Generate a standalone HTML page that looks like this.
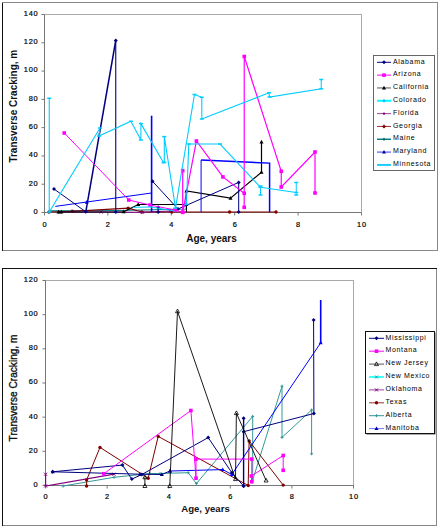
<!DOCTYPE html><html><head><meta charset="utf-8"><style>html,body{margin:0;padding:0;background:#fff;width:440px;height:528px;overflow:hidden;position:relative}</style></head><body><svg width="440" height="528" viewBox="0 0 440 528" style="position:absolute;left:0;top:0;font-family:'Liberation Sans', sans-serif">
<rect width="440" height="528" fill="#fff"/>
<rect x="2.5" y="2.5" width="435.0" height="248.0" fill="#fff" stroke="#888" stroke-width="1"/>
<line x1="2.5" y1="2.0" x2="2.5" y2="251.0" stroke="#111" stroke-width="1"/>
<line x1="2.0" y1="2.5" x2="438.0" y2="2.5" stroke="#888" stroke-width="1"/>
<rect x="44.5" y="14.5" width="317.0" height="198.0" fill="none" stroke="#aaa" stroke-width="1"/>
<text transform="translate(17.4,106.2) rotate(-90)" text-anchor="middle" font-size="10" font-weight="bold" fill="#111" stroke="#111" stroke-width="0">Transverse Cracking, m</text>
<text x="211.5" y="242" text-anchor="middle" font-size="10" font-weight="bold" fill="#111">Age, years</text>
<line x1="41.5" y1="212.50" x2="44.5" y2="212.50" stroke="#777" stroke-width="1"/>
<text x="38.5" y="213.90" text-anchor="end" font-size="7.4" letter-spacing="0.8" font-weight="normal" fill="#000" stroke="#000" stroke-width="0.2">0</text>
<line x1="41.5" y1="184.21" x2="44.5" y2="184.21" stroke="#777" stroke-width="1"/>
<text x="38.5" y="185.61" text-anchor="end" font-size="7.4" letter-spacing="0.8" font-weight="normal" fill="#000" stroke="#000" stroke-width="0.2">20</text>
<line x1="41.5" y1="155.93" x2="44.5" y2="155.93" stroke="#777" stroke-width="1"/>
<text x="38.5" y="157.33" text-anchor="end" font-size="7.4" letter-spacing="0.8" font-weight="normal" fill="#000" stroke="#000" stroke-width="0.2">40</text>
<line x1="41.5" y1="127.64" x2="44.5" y2="127.64" stroke="#777" stroke-width="1"/>
<text x="38.5" y="129.04" text-anchor="end" font-size="7.4" letter-spacing="0.8" font-weight="normal" fill="#000" stroke="#000" stroke-width="0.2">60</text>
<line x1="41.5" y1="99.36" x2="44.5" y2="99.36" stroke="#777" stroke-width="1"/>
<text x="38.5" y="100.76" text-anchor="end" font-size="7.4" letter-spacing="0.8" font-weight="normal" fill="#000" stroke="#000" stroke-width="0.2">80</text>
<line x1="41.5" y1="71.07" x2="44.5" y2="71.07" stroke="#777" stroke-width="1"/>
<text x="38.5" y="72.47" text-anchor="end" font-size="7.4" letter-spacing="0.8" font-weight="normal" fill="#000" stroke="#000" stroke-width="0.2">100</text>
<line x1="41.5" y1="42.79" x2="44.5" y2="42.79" stroke="#777" stroke-width="1"/>
<text x="38.5" y="44.19" text-anchor="end" font-size="7.4" letter-spacing="0.8" font-weight="normal" fill="#000" stroke="#000" stroke-width="0.2">120</text>
<line x1="41.5" y1="14.50" x2="44.5" y2="14.50" stroke="#777" stroke-width="1"/>
<text x="38.5" y="15.90" text-anchor="end" font-size="7.4" letter-spacing="0.8" font-weight="normal" fill="#000" stroke="#000" stroke-width="0.2">140</text>
<line x1="44.50" y1="212.5" x2="44.50" y2="215.5" stroke="#777" stroke-width="1"/>
<text x="44.90" y="226.5" text-anchor="middle" font-size="7.4" letter-spacing="0.8" font-weight="normal" fill="#000" stroke="#000" stroke-width="0.2">0</text>
<line x1="107.90" y1="212.5" x2="107.90" y2="215.5" stroke="#777" stroke-width="1"/>
<text x="108.30" y="226.5" text-anchor="middle" font-size="7.4" letter-spacing="0.8" font-weight="normal" fill="#000" stroke="#000" stroke-width="0.2">2</text>
<line x1="171.30" y1="212.5" x2="171.30" y2="215.5" stroke="#777" stroke-width="1"/>
<text x="171.70" y="226.5" text-anchor="middle" font-size="7.4" letter-spacing="0.8" font-weight="normal" fill="#000" stroke="#000" stroke-width="0.2">4</text>
<line x1="234.70" y1="212.5" x2="234.70" y2="215.5" stroke="#777" stroke-width="1"/>
<text x="235.10" y="226.5" text-anchor="middle" font-size="7.4" letter-spacing="0.8" font-weight="normal" fill="#000" stroke="#000" stroke-width="0.2">6</text>
<line x1="298.10" y1="212.5" x2="298.10" y2="215.5" stroke="#777" stroke-width="1"/>
<text x="298.50" y="226.5" text-anchor="middle" font-size="7.4" letter-spacing="0.8" font-weight="normal" fill="#000" stroke="#000" stroke-width="0.2">8</text>
<line x1="361.50" y1="212.5" x2="361.50" y2="215.5" stroke="#777" stroke-width="1"/>
<text x="361.90" y="226.5" text-anchor="middle" font-size="7.4" letter-spacing="0.8" font-weight="normal" fill="#000" stroke="#000" stroke-width="0.2">10</text>
<line x1="44.5" y1="14.5" x2="44.5" y2="212.5" stroke="#777" stroke-width="1"/>
<line x1="44.5" y1="212.5" x2="361.5" y2="212.5" stroke="#777" stroke-width="1"/>
<polyline points="50,210.8 120,210.5 186.4,209 186.4,191" fill="none" stroke="#008080" stroke-width="1.2" stroke-linejoin="miter"/>
<polyline points="49,212 72.2,211.3 128.2,208.2 141.8,212 171.8,212 229.6,212 276,212" fill="none" stroke="#800000" stroke-width="1.2" stroke-linejoin="miter"/>
<circle cx="49" cy="212" r="1.7" fill="#800000"/><circle cx="72.2" cy="211.3" r="1.7" fill="#800000"/><circle cx="128.2" cy="208.2" r="1.7" fill="#800000"/><circle cx="141.8" cy="212" r="1.7" fill="#800000"/><circle cx="171.8" cy="212" r="1.7" fill="#800000"/><circle cx="229.6" cy="212" r="1.7" fill="#800000"/><circle cx="276" cy="212" r="1.7" fill="#800000"/>
<polyline points="60,212 101.25,212 142.5,212.3 170,211" fill="none" stroke="#800080" stroke-width="1" stroke-linejoin="miter"/>
<path d="M58.5 210.5L61.5 213.5M61.5 210.5L58.5 213.5" stroke="#800080" stroke-width="1"/><path d="M99.75 210.5L102.75 213.5M102.75 210.5L99.75 213.5" stroke="#800080" stroke-width="1"/><path d="M141.0 210.8L144.0 213.8M144.0 210.8L141.0 213.8" stroke="#800080" stroke-width="1"/><path d="M168.5 209.5L171.5 212.5M171.5 209.5L168.5 212.5" stroke="#800080" stroke-width="1"/>
<polyline points="58.5,212 61.3,212 123.6,211.8 138.2,204.5 186.4,204.5 186.4,190.9 230.5,198.2 261.5,172.2 261.5,142" fill="none" stroke="#000000" stroke-width="1.2" stroke-linejoin="miter"/>
<path d="M58.5 209.8L60.5 213.5L56.5 213.5Z" fill="#000000"/><path d="M61.3 209.8L63.3 213.5L59.3 213.5Z" fill="#000000"/><path d="M123.6 209.60000000000002L125.6 213.3L121.6 213.3Z" fill="#000000"/><path d="M138.2 202.3L140.2 206.0L136.2 206.0Z" fill="#000000"/><path d="M186.4 202.3L188.4 206.0L184.4 206.0Z" fill="#000000"/><path d="M186.4 188.70000000000002L188.4 192.4L184.4 192.4Z" fill="#000000"/><path d="M230.5 196.0L232.5 199.7L228.5 199.7Z" fill="#000000"/><path d="M261.5 170.0L263.5 173.7L259.5 173.7Z" fill="#000000"/><path d="M261.5 139.8L263.5 143.5L259.5 143.5Z" fill="#000000"/>
<polyline points="186.4,204.5 186.4,212" fill="none" stroke="#000000" stroke-width="1" stroke-linejoin="miter"/>
<polyline points="55.3,206.4 151.5,193" fill="none" stroke="#0000ff" stroke-width="1" stroke-linejoin="miter"/>
<polyline points="86.7,202.2" fill="none" stroke="#0000ff" stroke-width="1" stroke-linejoin="miter"/>
<path d="M86.7 200.0L88.7 203.7L84.7 203.7Z" fill="#0000ff"/>
<polyline points="151.6,115.7 151.6,212" fill="none" stroke="#0000ff" stroke-width="1.6" stroke-linejoin="miter"/>
<polyline points="201.1,212 201.1,160" fill="none" stroke="#0000ff" stroke-width="1" stroke-linejoin="miter"/>
<polyline points="201.1,160 269.6,163.1 269.6,212" fill="none" stroke="#0000ff" stroke-width="1.5" stroke-linejoin="miter"/>
<polyline points="260.5,186 260.5,195" fill="none" stroke="#00ccff" stroke-width="1" stroke-linejoin="miter"/>
<line x1="258.5" y1="186" x2="262.5" y2="186" stroke="#00ccff" stroke-width="1.5"/><line x1="258.5" y1="195" x2="262.5" y2="195" stroke="#00ccff" stroke-width="1.5"/>
<polyline points="296.25,182.5 296.25,195" fill="none" stroke="#00ccff" stroke-width="1" stroke-linejoin="miter"/>
<line x1="294.25" y1="182.5" x2="298.25" y2="182.5" stroke="#00ccff" stroke-width="1.5"/><line x1="294.25" y1="195" x2="298.25" y2="195" stroke="#00ccff" stroke-width="1.5"/>
<polyline points="158.2,207.3 158.2,212" fill="none" stroke="#000080" stroke-width="1" stroke-linejoin="miter"/>
<path d="M158.2 205.3L160.2 207.3L158.2 209.3L156.2 207.3Z" fill="#000080"/><path d="M158.2 210L160.2 212L158.2 214L156.2 212Z" fill="#000080"/>
<polyline points="54,189 85.8,211.8" fill="none" stroke="#000080" stroke-width="1" stroke-linejoin="miter"/>
<path d="M54 187L56 189L54 191L52 189Z" fill="#000080"/><path d="M85.8 209.8L87.8 211.8L85.8 213.8L83.8 211.8Z" fill="#000080"/>
<polyline points="85.8,211.8 115.75,40.5" fill="none" stroke="#000080" stroke-width="1.5" stroke-linejoin="miter"/>
<polyline points="115.75,40.5 115.75,212" fill="none" stroke="#000080" stroke-width="1.1" stroke-linejoin="miter"/>
<path d="M115.75 38.5L117.75 40.5L115.75 42.5L113.75 40.5Z" fill="#000080"/><path d="M115.75 210L117.75 212L115.75 214L113.75 212Z" fill="#000080"/>
<polyline points="152.5,181.25 178,209 238.7,182.4 238.7,212" fill="none" stroke="#000080" stroke-width="1" stroke-linejoin="miter"/>
<path d="M152.5 179.25L154.5 181.25L152.5 183.25L150.5 181.25Z" fill="#000080"/><path d="M178 207L180 209L178 211L176 209Z" fill="#000080"/><path d="M238.7 180.4L240.7 182.4L238.7 184.4L236.7 182.4Z" fill="#000080"/><path d="M238.7 210L240.7 212L238.7 214L236.7 212Z" fill="#000080"/>
<polyline points="64.25,133 128.75,200 150,205 175,210 182.7,212.3" fill="none" stroke="#ff00ff" stroke-width="1" stroke-linejoin="miter"/>
<rect x="62.45" y="131.2" width="3.6" height="3.6" fill="#ff00ff"/><rect x="126.95" y="198.2" width="3.6" height="3.6" fill="#ff00ff"/><rect x="148.2" y="203.2" width="3.6" height="3.6" fill="#ff00ff"/><rect x="173.2" y="208.2" width="3.6" height="3.6" fill="#ff00ff"/><rect x="180.89999999999998" y="210.5" width="3.6" height="3.6" fill="#ff00ff"/>
<polyline points="182.7,170.6 182.7,212.3 196.4,141 222.9,176.9 244.2,193.3 244.2,207.3 244.25,56.5 281.25,171.25 281.25,187 315,152 315,193" fill="none" stroke="#ff00ff" stroke-width="1.2" stroke-linejoin="miter"/>
<rect x="180.89999999999998" y="168.79999999999998" width="3.6" height="3.6" fill="#ff00ff"/><rect x="180.89999999999998" y="210.5" width="3.6" height="3.6" fill="#ff00ff"/><rect x="194.6" y="139.2" width="3.6" height="3.6" fill="#ff00ff"/><rect x="221.1" y="175.1" width="3.6" height="3.6" fill="#ff00ff"/><rect x="242.39999999999998" y="191.5" width="3.6" height="3.6" fill="#ff00ff"/><rect x="242.39999999999998" y="205.5" width="3.6" height="3.6" fill="#ff00ff"/><rect x="242.45" y="54.7" width="3.6" height="3.6" fill="#ff00ff"/><rect x="279.45" y="169.45" width="3.6" height="3.6" fill="#ff00ff"/><rect x="279.45" y="185.2" width="3.6" height="3.6" fill="#ff00ff"/><rect x="313.2" y="150.2" width="3.6" height="3.6" fill="#ff00ff"/><rect x="313.2" y="191.2" width="3.6" height="3.6" fill="#ff00ff"/>
<polyline points="49.25,98.25 49.25,212 100,128 99,136 130.9,121.3 140.9,140 140.9,123.6 163.6,162.7 164.3,162.3 164.3,136.6 175.5,208 194.5,94.5 201.8,97.3 201.8,119 269,92.7 269.5,97 321.25,88.75 321.25,79.5" fill="none" stroke="#00ccff" stroke-width="1.1" stroke-linejoin="miter"/>
<line x1="47.25" y1="98.25" x2="51.25" y2="98.25" stroke="#00ccff" stroke-width="1.5"/><line x1="47.25" y1="212" x2="51.25" y2="212" stroke="#00ccff" stroke-width="1.5"/><line x1="98" y1="128" x2="102" y2="128" stroke="#00ccff" stroke-width="1.5"/><line x1="97" y1="136" x2="101" y2="136" stroke="#00ccff" stroke-width="1.5"/><line x1="128.9" y1="121.3" x2="132.9" y2="121.3" stroke="#00ccff" stroke-width="1.5"/><line x1="138.9" y1="140" x2="142.9" y2="140" stroke="#00ccff" stroke-width="1.5"/><line x1="138.9" y1="123.6" x2="142.9" y2="123.6" stroke="#00ccff" stroke-width="1.5"/><line x1="161.6" y1="162.7" x2="165.6" y2="162.7" stroke="#00ccff" stroke-width="1.5"/><line x1="162.3" y1="162.3" x2="166.3" y2="162.3" stroke="#00ccff" stroke-width="1.5"/><line x1="162.3" y1="136.6" x2="166.3" y2="136.6" stroke="#00ccff" stroke-width="1.5"/><line x1="173.5" y1="208" x2="177.5" y2="208" stroke="#00ccff" stroke-width="1.5"/><line x1="192.5" y1="94.5" x2="196.5" y2="94.5" stroke="#00ccff" stroke-width="1.5"/><line x1="199.8" y1="97.3" x2="203.8" y2="97.3" stroke="#00ccff" stroke-width="1.5"/><line x1="199.8" y1="119" x2="203.8" y2="119" stroke="#00ccff" stroke-width="1.5"/><line x1="267" y1="92.7" x2="271" y2="92.7" stroke="#00ccff" stroke-width="1.5"/><line x1="267.5" y1="97" x2="271.5" y2="97" stroke="#00ccff" stroke-width="1.5"/><line x1="319.25" y1="88.75" x2="323.25" y2="88.75" stroke="#00ccff" stroke-width="1.5"/><line x1="319.25" y1="79.5" x2="323.25" y2="79.5" stroke="#00ccff" stroke-width="1.5"/>
<polyline points="186.4,204.5 188.8,144 220,144 260.5,187.3 296.25,192.5" fill="none" stroke="#00ccff" stroke-width="1.1" stroke-linejoin="miter"/>
<line x1="184.4" y1="204.5" x2="188.4" y2="204.5" stroke="#00ccff" stroke-width="1.5"/><line x1="186.8" y1="144" x2="190.8" y2="144" stroke="#00ccff" stroke-width="1.5"/><line x1="218" y1="144" x2="222" y2="144" stroke="#00ccff" stroke-width="1.5"/><line x1="258.5" y1="187.3" x2="262.5" y2="187.3" stroke="#00ccff" stroke-width="1.5"/><line x1="294.25" y1="192.5" x2="298.25" y2="192.5" stroke="#00ccff" stroke-width="1.5"/>
<polyline points="132.7,207.3 151,207 174.5,211" fill="none" stroke="#00ccff" stroke-width="1" stroke-linejoin="miter"/>
<rect x="373.5" y="55.5" width="61.0" height="115.0" fill="#fff" stroke="#666" stroke-width="1"/>
<line x1="377" y1="62.30" x2="391" y2="62.30" stroke="#000080" stroke-width="1"/>
<path d="M384.0 60.3L386.0 62.3L384.0 64.3L382.0 62.3Z" fill="#000080"/>
<text x="393" y="63.50" font-size="7" letter-spacing="0.65" font-weight="normal" fill="#000">Alabama</text>
<line x1="377" y1="75.13" x2="391" y2="75.13" stroke="#ff00ff" stroke-width="1"/>
<rect x="382.2" y="73.33" width="3.6" height="3.6" fill="#ff00ff"/>
<text x="393" y="76.33" font-size="7" letter-spacing="0.65" font-weight="normal" fill="#000">Arizona</text>
<line x1="377" y1="87.96" x2="391" y2="87.96" stroke="#555" stroke-width="1"/>
<path d="M384.0 85.75999999999999L386.0 89.46L382.0 89.46Z" fill="#000"/>
<text x="393" y="89.16" font-size="7" letter-spacing="0.65" font-weight="normal" fill="#000">California</text>
<line x1="377" y1="100.79" x2="391" y2="100.79" stroke="#00ffff" stroke-width="2"/>
<path d="M382.5 100.78999999999999L385.5 100.78999999999999M384.0 99.28999999999999L384.0 102.28999999999999" stroke="#00aaff" stroke-width="1"/>
<text x="393" y="101.99" font-size="7" letter-spacing="0.65" font-weight="normal" fill="#000">Colorado</text>
<line x1="377" y1="113.62" x2="391" y2="113.62" stroke="#a040a0" stroke-width="1"/>
<circle cx="384.0" cy="113.62" r="1.2" fill="#800080"/>
<text x="393" y="114.82" font-size="7" letter-spacing="0.65" font-weight="normal" fill="#000">Florida</text>
<line x1="377" y1="126.45" x2="391" y2="126.45" stroke="#993333" stroke-width="1"/>
<path d="M384.0 124.45L386.0 126.45L384.0 128.45L382.0 126.45Z" fill="#800000"/>
<text x="393" y="127.65" font-size="7" letter-spacing="0.65" font-weight="normal" fill="#000">Georgia</text>
<line x1="377" y1="139.28" x2="391" y2="139.28" stroke="#008080" stroke-width="1.5"/>
<path d="M382.5 139.28L385.5 139.28M384.0 137.78L384.0 140.78" stroke="#006060" stroke-width="1"/>
<text x="393" y="140.48" font-size="7" letter-spacing="0.65" font-weight="normal" fill="#000">Maine</text>
<line x1="377" y1="152.11" x2="391" y2="152.11" stroke="#7777ff" stroke-width="1.5"/>
<path d="M384.0 149.91000000000003L386.0 153.61L382.0 153.61Z" fill="#000080"/>
<text x="393" y="153.31" font-size="7" letter-spacing="0.65" font-weight="normal" fill="#000">Maryland</text>
<line x1="377" y1="164.94" x2="391" y2="164.94" stroke="#22ccff" stroke-width="2"/>
<text x="393" y="166.14" font-size="7" letter-spacing="0.65" font-weight="normal" fill="#000">Minnesota</text>
<rect x="2.5" y="268.5" width="434.0" height="257.0" fill="#fff" stroke="#888" stroke-width="1"/>
<line x1="2.5" y1="268.0" x2="2.5" y2="526.0" stroke="#111" stroke-width="1"/>
<line x1="2.0" y1="268.5" x2="437.0" y2="268.5" stroke="#111" stroke-width="1"/>
<rect x="45.5" y="280.5" width="308.0" height="205.0" fill="none" stroke="#aaa" stroke-width="1"/>
<text transform="translate(16.8,388) rotate(-90)" text-anchor="middle" font-size="10.1" font-weight="normal" fill="#111" stroke="#111" stroke-width="0.35">Transverse Cracking, m</text>
<text x="205.5" y="512.3" text-anchor="middle" font-size="9.6" font-weight="bold" fill="#111">Age, years</text>
<line x1="42.5" y1="485.50" x2="45.5" y2="485.50" stroke="#777" stroke-width="1"/>
<text x="38.5" y="486.90" text-anchor="end" font-size="7.4" letter-spacing="0.8" font-weight="normal" fill="#000" stroke="#000" stroke-width="0.2">0</text>
<line x1="42.5" y1="451.33" x2="45.5" y2="451.33" stroke="#777" stroke-width="1"/>
<text x="38.5" y="452.73" text-anchor="end" font-size="7.4" letter-spacing="0.8" font-weight="normal" fill="#000" stroke="#000" stroke-width="0.2">20</text>
<line x1="42.5" y1="417.17" x2="45.5" y2="417.17" stroke="#777" stroke-width="1"/>
<text x="38.5" y="418.57" text-anchor="end" font-size="7.4" letter-spacing="0.8" font-weight="normal" fill="#000" stroke="#000" stroke-width="0.2">40</text>
<line x1="42.5" y1="383.00" x2="45.5" y2="383.00" stroke="#777" stroke-width="1"/>
<text x="38.5" y="384.40" text-anchor="end" font-size="7.4" letter-spacing="0.8" font-weight="normal" fill="#000" stroke="#000" stroke-width="0.2">60</text>
<line x1="42.5" y1="348.83" x2="45.5" y2="348.83" stroke="#777" stroke-width="1"/>
<text x="38.5" y="350.23" text-anchor="end" font-size="7.4" letter-spacing="0.8" font-weight="normal" fill="#000" stroke="#000" stroke-width="0.2">80</text>
<line x1="42.5" y1="314.67" x2="45.5" y2="314.67" stroke="#777" stroke-width="1"/>
<text x="38.5" y="316.07" text-anchor="end" font-size="7.4" letter-spacing="0.8" font-weight="normal" fill="#000" stroke="#000" stroke-width="0.2">100</text>
<line x1="42.5" y1="280.50" x2="45.5" y2="280.50" stroke="#777" stroke-width="1"/>
<text x="38.5" y="281.90" text-anchor="end" font-size="7.4" letter-spacing="0.8" font-weight="normal" fill="#000" stroke="#000" stroke-width="0.2">120</text>
<line x1="45.50" y1="485.5" x2="45.50" y2="488.5" stroke="#777" stroke-width="1"/>
<text x="45.90" y="499.3" text-anchor="middle" font-size="7.4" letter-spacing="0.8" font-weight="normal" fill="#000" stroke="#000" stroke-width="0.2">0</text>
<line x1="107.10" y1="485.5" x2="107.10" y2="488.5" stroke="#777" stroke-width="1"/>
<text x="107.50" y="499.3" text-anchor="middle" font-size="7.4" letter-spacing="0.8" font-weight="normal" fill="#000" stroke="#000" stroke-width="0.2">2</text>
<line x1="168.70" y1="485.5" x2="168.70" y2="488.5" stroke="#777" stroke-width="1"/>
<text x="169.10" y="499.3" text-anchor="middle" font-size="7.4" letter-spacing="0.8" font-weight="normal" fill="#000" stroke="#000" stroke-width="0.2">4</text>
<line x1="230.30" y1="485.5" x2="230.30" y2="488.5" stroke="#777" stroke-width="1"/>
<text x="230.70" y="499.3" text-anchor="middle" font-size="7.4" letter-spacing="0.8" font-weight="normal" fill="#000" stroke="#000" stroke-width="0.2">6</text>
<line x1="291.90" y1="485.5" x2="291.90" y2="488.5" stroke="#777" stroke-width="1"/>
<text x="292.30" y="499.3" text-anchor="middle" font-size="7.4" letter-spacing="0.8" font-weight="normal" fill="#000" stroke="#000" stroke-width="0.2">8</text>
<line x1="353.50" y1="485.5" x2="353.50" y2="488.5" stroke="#777" stroke-width="1"/>
<text x="353.90" y="499.3" text-anchor="middle" font-size="7.4" letter-spacing="0.8" font-weight="normal" fill="#000" stroke="#000" stroke-width="0.2">10</text>
<line x1="45.5" y1="280.5" x2="45.5" y2="485.5" stroke="#777" stroke-width="1"/>
<line x1="45.5" y1="485.5" x2="353.5" y2="485.5" stroke="#777" stroke-width="1"/>
<polyline points="45.6,474.2 45.6,486 114,474.2" fill="none" stroke="#800080" stroke-width="1.2" stroke-linejoin="miter"/>
<path d="M44.1 472.7L47.1 475.7M47.1 472.7L44.1 475.7" stroke="#800080" stroke-width="1"/><path d="M44.1 484.5L47.1 487.5M47.1 484.5L44.1 487.5" stroke="#800080" stroke-width="1"/><path d="M112.5 472.7L115.5 475.7M115.5 472.7L112.5 475.7" stroke="#800080" stroke-width="1"/>
<polyline points="63.1,486 114,477.3 150,473.5 160,473.5 188.2,472.7 196.4,483.6 252.7,416.4 252.7,480 282,386.2 282,437.4 311.6,410 311.6,453.8" fill="none" stroke="#339999" stroke-width="1" stroke-linejoin="miter"/>
<path d="M61.6 486L64.6 486M63.1 484.5L63.1 487.5" stroke="#339999" stroke-width="1"/><path d="M112.5 477.3L115.5 477.3M114 475.8L114 478.8" stroke="#339999" stroke-width="1"/><path d="M148.5 473.5L151.5 473.5M150 472.0L150 475.0" stroke="#339999" stroke-width="1"/><path d="M158.5 473.5L161.5 473.5M160 472.0L160 475.0" stroke="#339999" stroke-width="1"/><path d="M186.7 472.7L189.7 472.7M188.2 471.2L188.2 474.2" stroke="#339999" stroke-width="1"/><path d="M194.9 483.6L197.9 483.6M196.4 482.1L196.4 485.1" stroke="#339999" stroke-width="1"/><path d="M251.2 416.4L254.2 416.4M252.7 414.9L252.7 417.9" stroke="#339999" stroke-width="1"/><path d="M251.2 480L254.2 480M252.7 478.5L252.7 481.5" stroke="#339999" stroke-width="1"/><path d="M280.5 386.2L283.5 386.2M282 384.7L282 387.7" stroke="#339999" stroke-width="1"/><path d="M280.5 437.4L283.5 437.4M282 435.9L282 438.9" stroke="#339999" stroke-width="1"/><path d="M310.1 410L313.1 410M311.6 408.5L311.6 411.5" stroke="#339999" stroke-width="1"/><path d="M310.1 453.8L313.1 453.8M311.6 452.3L311.6 455.3" stroke="#339999" stroke-width="1"/>
<polyline points="86.6,486 86.6,480 100,447.4 148.2,478.2 158.2,436.4 248.2,485.5 249.1,440.9 283.2,485.1" fill="none" stroke="#800000" stroke-width="1" stroke-linejoin="miter"/>
<circle cx="86.6" cy="486" r="1.7" fill="#800000"/><circle cx="86.6" cy="480" r="1.7" fill="#800000"/><circle cx="100" cy="447.4" r="1.7" fill="#800000"/><circle cx="148.2" cy="478.2" r="1.7" fill="#800000"/><circle cx="158.2" cy="436.4" r="1.7" fill="#800000"/><circle cx="248.2" cy="485.5" r="1.7" fill="#800000"/><circle cx="249.1" cy="440.9" r="1.7" fill="#800000"/><circle cx="283.2" cy="485.1" r="1.7" fill="#800000"/>
<polyline points="52.7,471.8 140,474.2 161.8,474.5 170,471" fill="none" stroke="#000080" stroke-width="1" stroke-linejoin="miter"/>
<path d="M52.7 469.6L54.7 473.3L50.7 473.3Z" fill="#000080"/><path d="M140 472.0L142 475.7L138 475.7Z" fill="#000080"/><path d="M161.8 472.3L163.8 476.0L159.8 476.0Z" fill="#000080"/><path d="M170 468.8L172 472.5L168 472.5Z" fill="#000080"/>
<polyline points="170,471 222.7,469.6 231.8,474.5 320.7,342.8" fill="none" stroke="#0000ff" stroke-width="1" stroke-linejoin="miter"/>
<path d="M170 468.8L172 472.5L168 472.5Z" fill="#0000ff"/><path d="M222.7 467.40000000000003L224.7 471.1L220.7 471.1Z" fill="#0000ff"/><path d="M231.8 472.3L233.8 476.0L229.8 476.0Z" fill="#0000ff"/><path d="M320.7 340.6L322.7 344.3L318.7 344.3Z" fill="#0000ff"/>
<polyline points="320.7,342.8 320.7,300" fill="none" stroke="#0000ff" stroke-width="1.6" stroke-linejoin="miter"/>
<polyline points="52.7,471.8 122.4,465.1 131.8,479.1 141.8,474.5 208.2,437.6 231.8,472.7 243.6,486" fill="none" stroke="#000080" stroke-width="1" stroke-linejoin="miter"/>
<path d="M52.7 469.8L54.7 471.8L52.7 473.8L50.7 471.8Z" fill="#000080"/><path d="M122.4 463.1L124.4 465.1L122.4 467.1L120.4 465.1Z" fill="#000080"/><path d="M131.8 477.1L133.8 479.1L131.8 481.1L129.8 479.1Z" fill="#000080"/><path d="M141.8 472.5L143.8 474.5L141.8 476.5L139.8 474.5Z" fill="#000080"/><path d="M208.2 435.6L210.2 437.6L208.2 439.6L206.2 437.6Z" fill="#000080"/><path d="M231.8 470.7L233.8 472.7L231.8 474.7L229.8 472.7Z" fill="#000080"/><path d="M243.6 484L245.6 486L243.6 488L241.6 486Z" fill="#000080"/>
<polyline points="243.6,486 243.6,418.2" fill="none" stroke="#000080" stroke-width="1.4" stroke-linejoin="miter"/>
<path d="M243.6 484L245.6 486L243.6 488L241.6 486Z" fill="#000080"/><path d="M243.6 416.2L245.6 418.2L243.6 420.2L241.6 418.2Z" fill="#000080"/>
<polyline points="243.6,431.7 313.9,413.5 313.6,320" fill="none" stroke="#000080" stroke-width="1" stroke-linejoin="miter"/>
<path d="M243.6 429.7L245.6 431.7L243.6 433.7L241.6 431.7Z" fill="#000080"/><path d="M313.9 411.5L315.9 413.5L313.9 415.5L311.9 413.5Z" fill="#000080"/><path d="M313.6 318L315.6 320L313.6 322L311.6 320Z" fill="#000080"/>
<polyline points="103.75,473.75 190.9,410.5 196,478.2 196,459.1 251.8,459.1 251.8,481.8 251.4,476 283.2,455.5 283.2,470.3" fill="none" stroke="#ff00ff" stroke-width="1" stroke-linejoin="miter"/>
<rect x="101.95" y="471.95" width="3.6" height="3.6" fill="#ff00ff"/><rect x="189.1" y="408.7" width="3.6" height="3.6" fill="#ff00ff"/><rect x="194.2" y="476.4" width="3.6" height="3.6" fill="#ff00ff"/><rect x="194.2" y="457.3" width="3.6" height="3.6" fill="#ff00ff"/><rect x="250.0" y="457.3" width="3.6" height="3.6" fill="#ff00ff"/><rect x="250.0" y="480.0" width="3.6" height="3.6" fill="#ff00ff"/><rect x="249.6" y="474.2" width="3.6" height="3.6" fill="#ff00ff"/><rect x="281.4" y="453.7" width="3.6" height="3.6" fill="#ff00ff"/><rect x="281.4" y="468.5" width="3.6" height="3.6" fill="#ff00ff"/>
<polyline points="144.9,486 144.9,477.3" fill="none" stroke="#000000" stroke-width="0.9" stroke-linejoin="miter"/>
<path d="M144.9 483.8L146.9 487.5L142.9 487.5Z" fill="none" stroke="#000000" stroke-width="0.8"/><path d="M144.9 475.1L146.9 478.8L142.9 478.8Z" fill="none" stroke="#000000" stroke-width="0.8"/>
<polyline points="169.75,486 177.5,311.25 235.5,479.1 236.4,413.1 266.1,480.5" fill="none" stroke="#000000" stroke-width="0.9" stroke-linejoin="miter"/>
<path d="M169.75 483.8L171.75 487.5L167.75 487.5Z" fill="none" stroke="#000000" stroke-width="0.8"/><path d="M177.5 309.05L179.5 312.75L175.5 312.75Z" fill="none" stroke="#000000" stroke-width="0.8"/><path d="M235.5 476.90000000000003L237.5 480.6L233.5 480.6Z" fill="none" stroke="#000000" stroke-width="0.8"/><path d="M236.4 410.90000000000003L238.4 414.6L234.4 414.6Z" fill="none" stroke="#000000" stroke-width="0.8"/><path d="M266.1 478.3L268.1 482.0L264.1 482.0Z" fill="none" stroke="#000000" stroke-width="0.8"/>
<rect x="366.5" y="332.5" width="69.0" height="102.0" fill="#555"/>
<rect x="365.5" y="331.5" width="69.0" height="102.0" fill="#fff" stroke="#111" stroke-width="1"/>
<line x1="369" y1="338.30" x2="384" y2="338.30" stroke="#000080" stroke-width="1"/>
<path d="M376.5 336.3L378.5 338.3L376.5 340.3L374.5 338.3Z" fill="#000080"/>
<text x="385.5" y="339.50" font-size="7" letter-spacing="0.65" font-weight="normal" fill="#000">Mississippi</text>
<line x1="369" y1="351.20" x2="384" y2="351.20" stroke="#ff00ff" stroke-width="1"/>
<rect x="374.7" y="349.4" width="3.6" height="3.6" fill="#ff00ff"/>
<text x="385.5" y="352.40" font-size="7" letter-spacing="0.65" font-weight="normal" fill="#000">Montana</text>
<line x1="369" y1="364.10" x2="384" y2="364.10" stroke="#555" stroke-width="1"/>
<path d="M376.5 361.90000000000003L378.5 365.6L374.5 365.6Z" fill="none" stroke="#000" stroke-width="0.8"/>
<text x="385.5" y="365.30" font-size="7" letter-spacing="0.65" font-weight="normal" fill="#000">New Jersey</text>
<line x1="369" y1="377.00" x2="384" y2="377.00" stroke="#00ffff" stroke-width="1.5"/>
<path d="M375.0 375.5L378.0 378.5M378.0 375.5L375.0 378.5" stroke="#00aaaa" stroke-width="1"/>
<text x="385.5" y="378.20" font-size="7" letter-spacing="0.65" font-weight="normal" fill="#000">New Mexico</text>
<line x1="369" y1="389.90" x2="384" y2="389.90" stroke="#a040a0" stroke-width="1"/>
<path d="M375.0 388.40000000000003L378.0 391.40000000000003M378.0 388.40000000000003L375.0 391.40000000000003" stroke="#800080" stroke-width="1"/>
<text x="385.5" y="391.10" font-size="7" letter-spacing="0.65" font-weight="normal" fill="#000">Oklahoma</text>
<line x1="369" y1="402.80" x2="384" y2="402.80" stroke="#993333" stroke-width="1"/>
<circle cx="376.5" cy="402.8" r="1.7" fill="#800000"/>
<text x="385.5" y="404.00" font-size="7" letter-spacing="0.65" font-weight="normal" fill="#000">Texas</text>
<line x1="369" y1="415.70" x2="384" y2="415.70" stroke="#339999" stroke-width="1"/>
<path d="M375.0 415.70000000000005L378.0 415.70000000000005M376.5 414.20000000000005L376.5 417.20000000000005" stroke="#339999" stroke-width="1"/>
<text x="385.5" y="416.90" font-size="7" letter-spacing="0.65" font-weight="normal" fill="#000">Alberta</text>
<line x1="369" y1="428.60" x2="384" y2="428.60" stroke="#7777ff" stroke-width="1"/>
<path d="M376.5 426.40000000000003L378.5 430.1L374.5 430.1Z" fill="#0000aa"/>
<text x="385.5" y="429.80" font-size="7" letter-spacing="0.65" font-weight="normal" fill="#000">Manitoba</text>
</svg></body></html>
